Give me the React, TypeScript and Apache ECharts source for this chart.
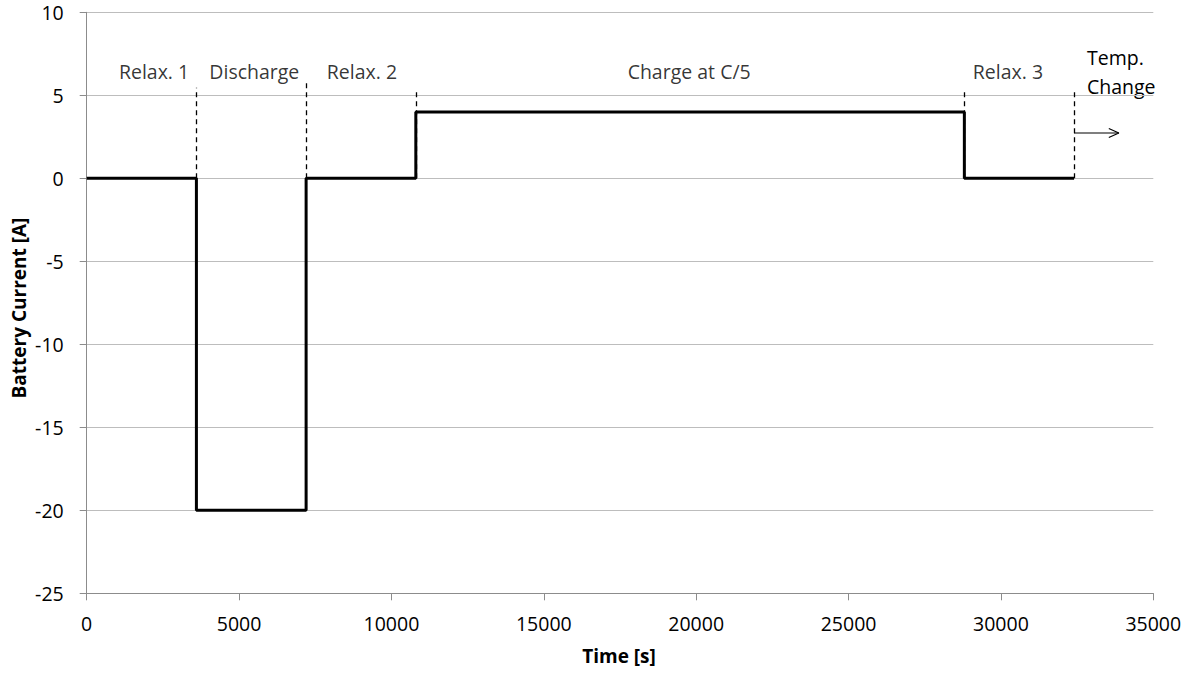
import React, { useEffect, useRef } from "react";
import * as echarts from "echarts";

// Current profile: [time s, current A] corner points of the step profile
const profileTimes = [0, 3600, 3600, 7200, 7200, 10800, 10800, 28800, 28800, 32400];
const profileCurrents = [0, 0, -20, -20, 0, 0, 4, 4, 0, 0];

// Phase boundaries (s) and the top of each dashed marker (A)
const boundaryTimes = [3600, 7200, 10800, 28800, 32400];
const boundaryTops = [5.45, 5.9, 5.4, 5.2, 5.2];

// Phase labels: name, centre time (s), height (A)
const phaseNames = ["Relax. 1", "Discharge", "Relax. 2", "Charge at C/5", "Relax. 3"];
const phaseCenters = [2210, 5500, 9030, 19770, 30230];
const phaseLabelY = 6.45;

// Arrow after the last boundary: shaft and open head, [time s, current A]
const arrowShaft = [[32400, 2.73], [33870, 2.73]];
const arrowHead = [[33540, 3.0], [33870, 2.73], [33540, 2.46]];

const FONT = "'Open Sans', 'DejaVu Sans', sans-serif";
const TEXT = "#000";

export default function App() {
  const ref = useRef<HTMLDivElement>(null);

  useEffect(() => {
    document.body.style.margin = "0";
    const chart = echarts.init(ref.current!, null, { renderer: "svg" });

    const profile = profileTimes.map((t, i) => [t, profileCurrents[i]]);
    const boundaries = boundaryTimes.map((t, i) => [
      { coord: [t, 0] },
      { coord: [t, boundaryTops[i]] },
    ]);
    const phaseLabels = phaseNames.map((n, i) => ({ value: [phaseCenters[i], phaseLabelY], name: n }));

    chart.setOption({
      animation: false,
      grid: { left: 86.7, right: 39.7, top: 12.3, bottom: 79.7, containLabel: false },
      xAxis: {
        type: "value",
        min: 0,
        max: 35000,
        interval: 5000,
        axisLine: { show: true, onZero: false, lineStyle: { color: "#8c8c8c", width: 1 } },
        axisTick: { show: true, length: 7, lineStyle: { color: "#8c8c8c" } },
        axisLabel: {
          color: TEXT,
          fontSize: 19.5,
          fontFamily: FONT,
          margin: 20,
          formatter: (v: number) => String(v),
        },
        splitLine: { show: false },
      },
      yAxis: {
        type: "value",
        min: -25,
        max: 10,
        interval: 5,
        axisLine: { show: true, lineStyle: { color: "#8c8c8c", width: 1 } },
        axisTick: { show: true, length: 7, lineStyle: { color: "#8c8c8c" } },
        axisLabel: {
          color: TEXT,
          fontSize: 19.5,
          fontFamily: FONT,
          margin: 23,
          formatter: (v: number) => String(v),
        },
        splitLine: { show: true, lineStyle: { color: "#bdbdbd", width: 1 } },
      },
      series: [
        {
          type: "line",
          data: profile,
          symbol: "none",
          lineStyle: { color: "#000", width: 3 },
          z: 5,
          markLine: {
            silent: true,
            symbol: ["none", "none"],
            label: { show: false },
            lineStyle: { color: "#000", width: 1.3, type: [5, 4] },
            data: boundaries,
          },
        },
        {
          type: "line",
          data: arrowShaft,
          symbol: "none",
          silent: true,
          lineStyle: { color: "#000", width: 1.2 },
        },
        {
          type: "line",
          data: arrowHead,
          symbol: "none",
          silent: true,
          lineStyle: { color: "#000", width: 1.2 },
        },
        {
          type: "scatter",
          data: phaseLabels,
          symbolSize: 0,
          silent: true,
          label: {
            show: true,
            position: "inside",
            formatter: (p: any) => p.name,
            color: TEXT,
            fontSize: 19.5,
            fontFamily: FONT,
          },
        },
      ],
      graphic: [
        {
          type: "text",
          x: 1087,
          y: 57,
          style: {
            text: "Temp.",
            fill: TEXT,
            font: `19.5px ${FONT}`,
            align: "left",
            verticalAlign: "middle",
          },
        },
        {
          type: "text",
          x: 1087,
          y: 86,
          style: {
            text: "Change",
            fill: TEXT,
            font: `19.5px ${FONT}`,
            align: "left",
            verticalAlign: "middle",
          },
        },
        {
          type: "text",
          x: 19,
          y: 308,
          rotation: Math.PI / 2,
          style: {
            text: "Battery Current [A]",
            fill: "#000",
            font: `bold 19px ${FONT}`,
            align: "center",
            verticalAlign: "middle",
          },
        },
        {
          type: "text",
          x: 619,
          y: 656,
          style: {
            text: "Time [s]",
            fill: "#000",
            font: `bold 19px ${FONT}`,
            align: "center",
            verticalAlign: "middle",
          },
        },
      ],
    });

    return () => chart.dispose();
  }, []);

  return <div ref={ref} style={{ width: 1193, height: 673 }} />;
}
